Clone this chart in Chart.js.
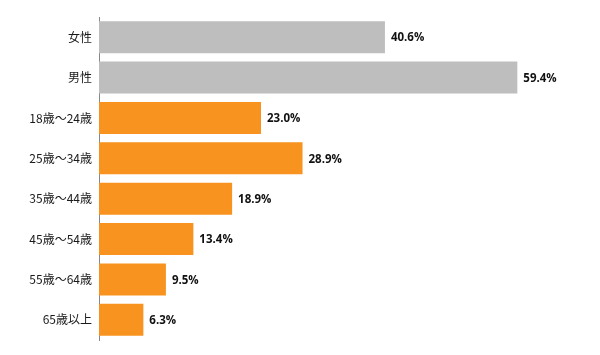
<!DOCTYPE html>
<html><head><meta charset="utf-8">
<script src="https://cdn.jsdelivr.net/npm/chart.js@4"></script>
<style>html,body{margin:0;padding:0;background:#fff}#w{width:600px;height:355px}</style>
</head><body><div id="w"><canvas id="c"></canvas></div>
<script>
const categories = ["女性","男性","18歳〜24歳","25歳〜34歳","35歳〜44歳","45歳〜54歳","55歳〜64歳","65歳以上"];
const values = [40.6, 59.4, 23.0, 28.9, 18.9, 13.4, 9.5, 6.3];
const valueLabels = ["40.6%","59.4%","23.0%","28.9%","18.9%","13.4%","9.5%","6.3%"];
const colors = ["#BEBEBE","#BEBEBE","#F7931E","#F7931E","#F7931E","#F7931E","#F7931E","#F7931E"];

const labelPlugin = {
  id: 'vl',
  afterDatasetsDraw(chart) {
    const ctx = chart.ctx;
    const meta = chart.getDatasetMeta(0);
    ctx.save();
    ctx.font = 'bold 11.5px "Open Sans", sans-serif';
    ctx.fillStyle = '#111';
    ctx.textBaseline = 'middle';
    ctx.textAlign = 'left';
    meta.data.forEach((bar, i) => {
      ctx.fillText(valueLabels[i], bar.x + 6, bar.y + 1);
    });
    ctx.restore();
  }
};

new Chart(document.getElementById('c'), {
  type: 'bar',
  data: { labels: categories, datasets: [{ data: values, backgroundColor: colors, borderWidth: 0, barPercentage: 0.79, categoryPercentage: 1 }] },
  options: {
    indexAxis: 'y', responsive: true, maintainAspectRatio: false, animation: false,
    layout: { padding: { top: 17, bottom: 15, right: 8, left: 0 } },
    plugins: { legend: { display: false }, tooltip: { enabled: false } },
    scales: {
      x: { display: false, min: 0, max: 70 },
      y: {
        afterFit(s) { s.width = 99; },
        grid: { display: false, drawTicks: false },
        border: { display: true, color: '#888', width: 1 },
        ticks: { color: '#1a1a1a', padding: 7, font: { family: '"Noto Sans CJK JP", sans-serif', size: 12 } }
      }
    }
  },
  plugins: [labelPlugin]
});
</script></body></html>
